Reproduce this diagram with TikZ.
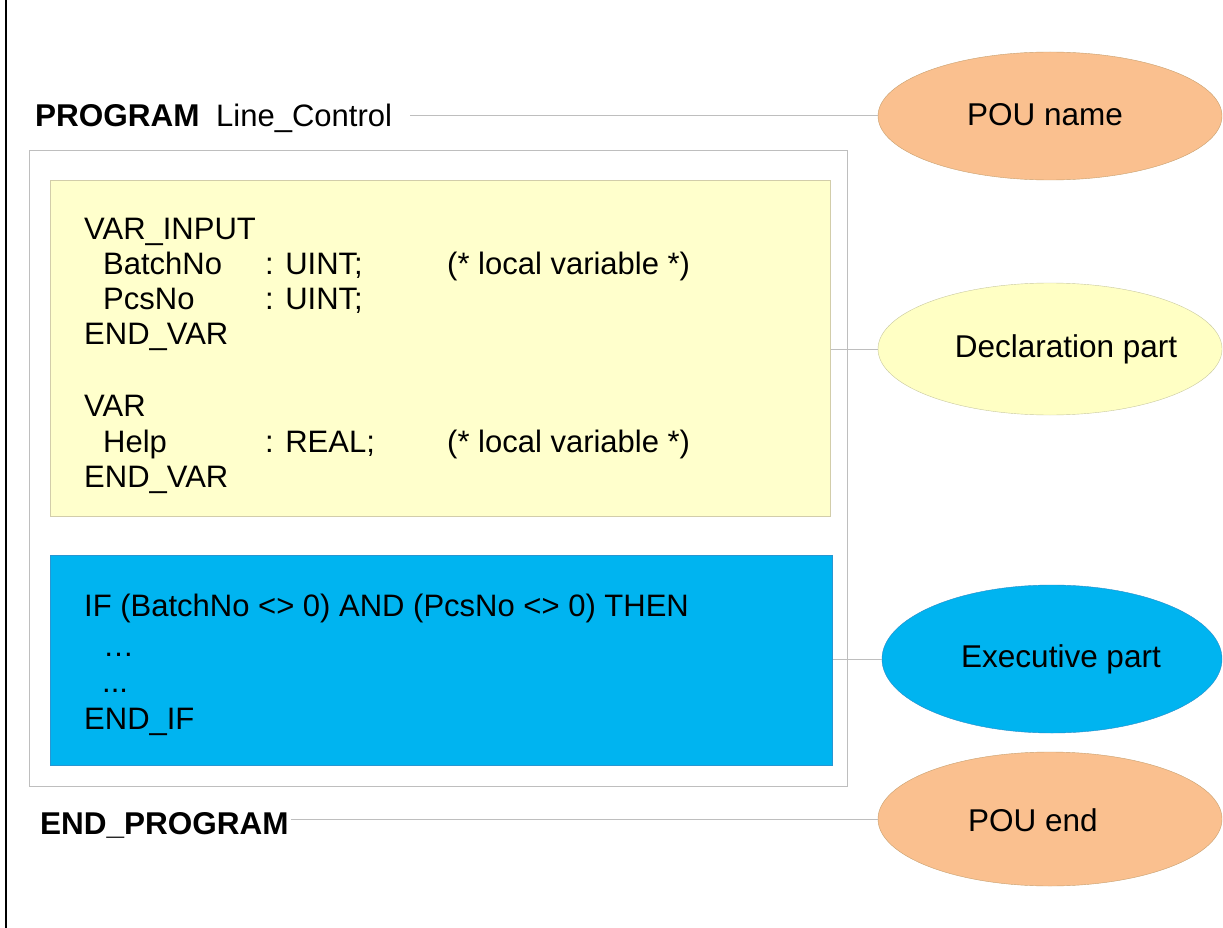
\documentclass[tikz,border=0pt]{standalone}
\usepackage{fontspec}
\setmainfont{Liberation Sans}
\usetikzlibrary{shapes.geometric}
\definecolor{cblue}{RGB}{0,180,240}
\definecolor{corange}{RGB}{250,192,143}
\definecolor{cyellow}{RGB}{255,255,204}
\definecolor{cyellowell}{RGB}{255,255,196}
\definecolor{cgrey}{RGB}{190,190,190}
\tikzset{
  txt/.style={anchor=base west, inner sep=0pt, font=\fontsize{31}{36}\selectfont},
  btxt/.style={txt, font=\fontsize{31.5}{36}\selectfont\bfseries},
  ell/.style={ellipse, minimum width=344pt, minimum height=130pt, inner sep=0pt},
  etxt/.style={inner sep=0pt, font=\fontsize{31.5}{36}\selectfont},
  conn/.style={draw=cgrey, line width=1pt},
}
\begin{document}
\begin{tikzpicture}[x=1pt,y=-1pt]
\useasboundingbox (0,0) rectangle (1223,928);
\fill[white] (0,0) rectangle (1223,928);
% left rule
\draw[black, line width=1.5pt] (6,0) -- (6,928);
% outer box
\node[draw=cgrey, line width=1pt, minimum width=818pt, minimum height=636pt, inner sep=0pt, anchor=north west] (outer) at (29,150) {};
% declaration box
\node[draw={rgb,255:red,210;green,205;blue,170}, fill=cyellow, line width=1pt, minimum width=780pt, minimum height=336pt, inner sep=0pt, anchor=north west] (decl) at (50,180) {};
% executive box
\node[draw={rgb,255:red,40;green,150;blue,210}, fill=cblue, line width=0.8pt, minimum width=782pt, minimum height=210pt, inner sep=0pt, anchor=north west] (exec) at (50,555) {};
% header
\node[btxt] (prog) at (35,127) {PROGRAM};
\node[txt] (pname) at (216,127) {Line\_Control};
% declaration text
\node[txt] (l1) at (84,240) {VAR\_INPUT};
\node[txt] (l2a) at (103,274) {BatchNo};
\node[txt] (l2b) at (265,274) {: UINT;};
\node[txt] (l2c) at (447,274) {(* local variable *)};
\node[txt] (l3a) at (103,309) {PcsNo};
\node[txt] (l3b) at (265,309) {: UINT;};
\node[txt] (l4) at (84,344) {END\_VAR};
\node[txt] (l5) at (84,416) {VAR};
\node[txt] (l6a) at (103,452) {Help};
\node[txt] (l6b) at (265,452) {: REAL;};
\node[txt] (l6c) at (447,452) {(* local variable *)};
\node[txt] (l7) at (84,487) {END\_VAR};
% executive text
\node[txt] (e1) at (84,616) {IF (BatchNo <> 0) AND (PcsNo <> 0) THEN};
\node[txt] (e2) at (103,656) {…};
\node[txt] (e3) at (102,692) {...};
\node[txt] (e4) at (84,729) {END\_IF};
% footer
\node[btxt] (endp) at (40,834) {END\_PROGRAM};
% ellipses
\node[ell, fill=corange, draw={rgb,255:red,200;green,160;blue,110}, minimum height=128pt] (ename) at (1050,116) {};
\node[ell, fill=cyellowell, draw={rgb,255:red,200;green,200;blue,160}, minimum height=132pt] (edecl) at (1050,349) {};
\node[ell, fill=cblue, draw={rgb,255:red,40;green,140;blue,200}, minimum width=340pt, minimum height=148pt] (eexec) at (1052,659) {};
\node[ell, fill=corange, draw={rgb,255:red,200;green,160;blue,110}, minimum height=134pt] (eend) at (1050,819) {};
\node[etxt] (tname) at (1045,115) {POU name};
\node[etxt] (tdecl) at (1066,349) {Declaration part};
\node[etxt] (texec) at (1061,659) {Executive part};
\node[etxt] (tend) at (1033,820) {POU end};
% connectors
\draw[conn] ([xshift=18pt]pname.east |- ename.west) -- (ename.west);
\draw[conn] (decl.east |- edecl.west) -- (edecl.west);
\draw[conn] (exec.east |- eexec.west) -- (eexec.west);
\draw[conn] ([xshift=2pt]endp.east |- eend.west) -- (eend.west);
\end{tikzpicture}
\end{document}
